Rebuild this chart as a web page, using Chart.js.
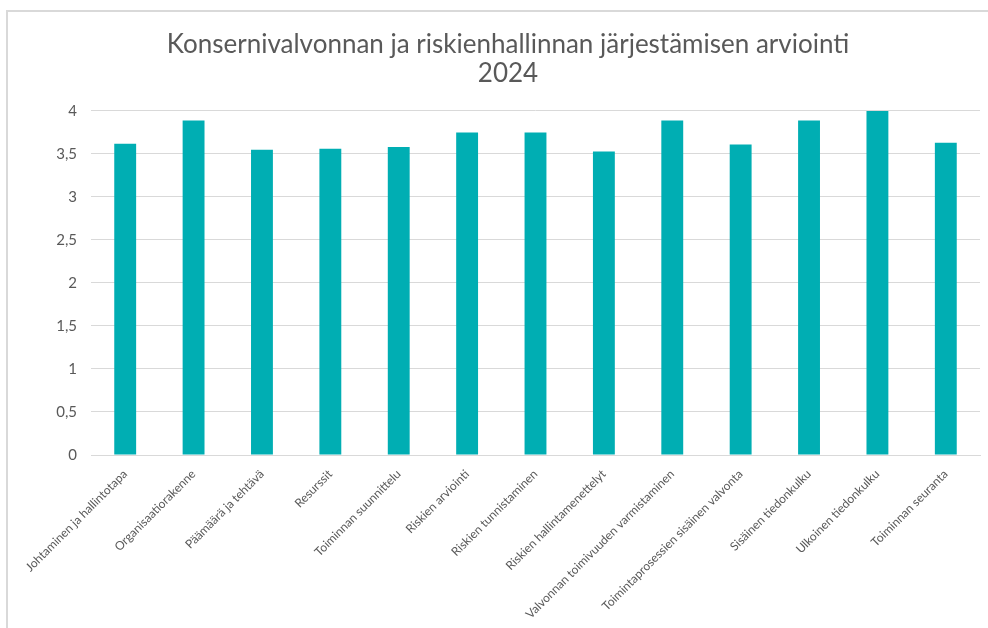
<!DOCTYPE html>
<html lang="fi">
<head>
  <meta charset="UTF-8">
  <title>Konsernivalvonnan ja riskienhallinnan järjestämisen arviointi 2024</title>
  <script src="https://cdn.jsdelivr.net/npm/chart.js"></script>
  <style>
    body {
      margin: 0;
      background: #fff;
      font-family: 'Lato', sans-serif;
    }
    .wrap {
      position: relative;
      width: 988px;
      height: 628px;
      overflow: hidden;
    }
    .frame {
      position: absolute;
      left: 6px;
      top: 10px;
      width: 1000px;
      height: 700px;
      border-left: 2px solid #d9d9d9;
      border-top: 2px solid #d9d9d9;
      pointer-events: none;
    }
  </style>
</head>
<body>
  <div class="wrap">
    <canvas id="chart" width="988" height="628"></canvas>
    <div class="frame"></div>
  </div>

  <script>
    const titleLines = ["Konsernivalvonnan ja riskienhallinnan järjestämisen arviointi", "2024"];

    const categories = [
      "Johtaminen ja hallintotapa",
      "Organisaatiorakenne",
      "Päämäärä ja tehtävä",
      "Resurssit",
      "Toiminnan suunnittelu",
      "Riskien arviointi",
      "Riskien tunnistaminen",
      "Riskien hallintamenettelyt",
      "Valvonnan toimivuuden varmistaminen",
      "Toimintaprosessien sisäinen valvonta",
      "Sisäinen tiedonkulku",
      "Ulkoinen tiedonkulku",
      "Toiminnan seuranta"
    ];

    const scores = [3.62, 3.89, 3.55, 3.56, 3.58, 3.75, 3.75, 3.53, 3.89, 3.61, 3.89, 4.0, 3.63];

    const yTicks = [0, 0.5, 1, 1.5, 2, 2.5, 3, 3.5, 4];

    const grey = "#595959";

    new Chart(document.getElementById("chart"), {
      type: "bar",
      data: {
        labels: categories,
        datasets: [{
          data: scores,
          backgroundColor: "#00aeb3",
          borderWidth: 0,
          categoryPercentage: 1,
          barPercentage: 0.32
        }]
      },
      options: {
        responsive: false,
        animation: false,
        layout: { padding: { left: 36, right: 8, top: 0, bottom: 0 } },
        plugins: {
          legend: { display: false },
          tooltip: { enabled: false },
          title: {
            display: true,
            text: titleLines,
            color: grey,
            font: { family: "Lato", size: 26, weight: "normal", lineHeight: 1.115 },
            padding: { top: 30, bottom: 23 }
          }
        },
        scales: {
          x: {
            grid: { display: false },
            border: { color: "#d9d9d9", width: 1 },
            ticks: {
              color: grey,
              font: { family: "Lato", size: 12 },
              minRotation: 45,
              maxRotation: 45,
              autoSkip: false,
              padding: 4
            },
            afterFit(scale) { scale.height = 173; }
          },
          y: {
            min: 0,
            max: 4,
            afterBuildTicks(scale) { scale.ticks = yTicks.map(v => ({ value: v })); },
            grid: { color: "#d9d9d9", lineWidth: 1, drawTicks: false },
            border: { display: false },
            ticks: {
              color: grey,
              font: { family: "Lato", size: 15 },
              padding: 14,
              callback: v => String(v).replace(".", ",")
            },
            afterFit(scale) { scale.width = 55; }
          }
        }
      }
    });
  </script>
</body>
</html>
